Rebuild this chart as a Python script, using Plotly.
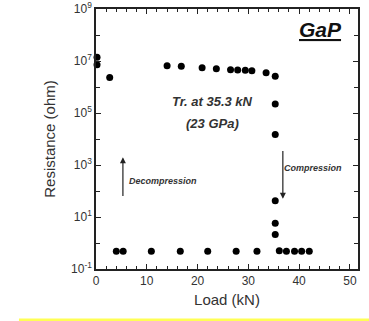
import plotly.graph_objects as go

# Compression run (increasing load)
comp_load = [14.0, 16.8, 20.9, 23.7, 26.5, 27.9, 29.4, 30.7, 33.5, 35.3, 35.3, 35.3, 35.3, 35.3, 35.3, 36.1, 37.5, 39.1, 40.5, 42.0]
comp_res = [6.6e6, 6.3e6, 5.5e6, 5.0e6, 4.6e6, 4.5e6, 4.4e6, 4.2e6, 3.5e6, 2.6e6, 2.2e5, 1.5e4, 42, 5.8, 2.1, 0.50, 0.48, 0.48, 0.48, 0.48]
# Decompression run (decreasing load)
dec_load = [31.7, 27.6, 22.0, 16.6, 10.9, 5.35, 4.0, 2.7, 0.2, 0.2]
dec_res = [0.48, 0.48, 0.48, 0.48, 0.48, 0.48, 0.48, 2.3e6, 7.2e6, 1.4e7]

ytick_vals = [1e-1, 1e1, 1e3, 1e5, 1e7, 1e9]
ytick_text = ["10<sup>-1</sup>", "10<sup>1</sup>", "10<sup>3</sup>", "10<sup>5</sup>", "10<sup>7</sup>", "10<sup>9</sup>"]
ymajor_minor = [1e0, 1e2, 1e4, 1e6, 1e8]

FONT = "Liberation Sans, Arial"

fig = go.Figure()
for xs, ys in [(comp_load, comp_res), (dec_load, dec_res)]:
    fig.add_trace(go.Scatter(x=xs, y=ys, mode="markers",
                             marker=dict(color="black", size=7),
                             showlegend=False, cliponaxis=False))

axis_common = dict(showline=True, linecolor="#222", linewidth=1.5, mirror="ticks",
                   ticks="inside", ticklen=5, tickcolor="#222", showgrid=False, zeroline=False,
                   automargin=False,
                   tickfont=dict(family=FONT, size=12, color="#333"))

fig.update_xaxes(range=[0, 51.6], tickvals=[0, 10, 20, 30, 40, 50],
                 minor=dict(ticks="inside", ticklen=3, dtick=2, tickcolor="#222"),
                 title=dict(text="Load (kN)", font=dict(family=FONT, size=15, color="#333"), standoff=7),
                 **axis_common)
fig.update_yaxes(type="log", range=[-1, 9], tickvals=ytick_vals, ticktext=ytick_text,
                 minor=dict(ticks="inside", ticklen=4, tickvals=ymajor_minor, tickcolor="#222"),
                 title=dict(text="Resistance (ohm)", font=dict(family=FONT, size=15, color="#333"), standoff=12),
                 **axis_common)

fig.add_annotation(xref="paper", yref="paper", x=0.945, y=0.975, xanchor="right", yanchor="top",
                   text="<b><i><u>GaP</u></i></b>",
                   showarrow=False, font=dict(family=FONT, size=21, color="#111"))
fig.add_annotation(x=23.0, y=5.45, yref="y", text="<b><i>Tr. at 35.3 kN</i></b>", showarrow=False,
                   font=dict(family=FONT, size=13, color="#333"))
fig.add_annotation(x=23.0, y=4.6, yref="y", text="<b><i>(23 GPa)</i></b>", showarrow=False,
                   font=dict(family=FONT, size=13, color="#333"))
fig.add_annotation(x=6.2, y=2.4, yref="y", text="<b><i>Decompression</i></b>", showarrow=False, xanchor="left",
                   font=dict(family=FONT, size=9, color="#333"))
fig.add_annotation(x=36.6, y=2.9, yref="y", text="<b><i>Compression</i></b>", showarrow=False, xanchor="left",
                   font=dict(family=FONT, size=9, color="#333"))
# arrows
fig.add_annotation(x=5.3, y=3.3, ax=5.3, ay=1.75, xref="x", yref="y", axref="x", ayref="y",
                   text="", showarrow=True, arrowhead=2, arrowsize=1, arrowwidth=1.2, arrowcolor="#222")
fig.add_annotation(x=36.8, y=1.7, ax=36.8, ay=3.6, xref="x", yref="y", axref="x", ayref="y",
                   text="", showarrow=True, arrowhead=2, arrowsize=1, arrowwidth=1.2, arrowcolor="#222")

fig.add_shape(type="rect", xref="paper", yref="paper", x0=-0.294, x1=1.05, y0=-0.19, y1=-0.225,
              fillcolor="#ffff55", line=dict(width=0), layer="above")

fig.update_layout(width=369, height=321, margin=dict(l=96, r=11, t=9, b=52),
                  paper_bgcolor="white", plot_bgcolor="white")
fig.write_html("out.html", config={"displayModeBar": False},
               post_script="document.body.style.margin='0';document.body.style.overflow='hidden';")
